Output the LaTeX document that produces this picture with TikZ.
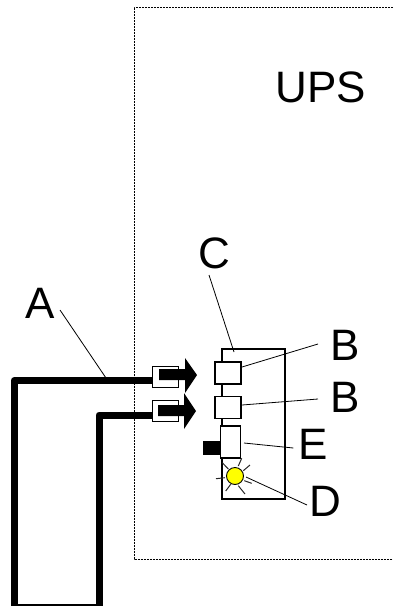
\documentclass[tikz,border=0pt]{standalone}
\usepackage{fontspec}
\setmainfont{Liberation Sans}
\definecolor{bulb}{rgb}{1,1,0}
\tikzset{
  x=1pt,y=-1pt,
  lab/.style={inner sep=0pt,font=\fontsize{44}{44}\selectfont},
  leader/.style={draw=black,line width=0.8pt},
  cable/.style={draw=black,line width=7pt,line join=round},
  plug/.style={draw=black,line width=1.3pt,fill=white,inner sep=0pt,minimum width=26pt,minimum height=21pt},
  part/.style={draw=black,line width=1.3pt,fill=white,inner sep=0pt},
  flow/.style={fill=black},
  ray/.style={draw=black!85,line width=1pt}
}
\begin{document}
\begin{tikzpicture}
\useasboundingbox (0,0) rectangle (393,606);
\clip (0,0) rectangle (393,606);
\draw[dash pattern=on 1pt off 0.5pt,line width=1pt] (393,7) -- (134,7) -- (134,559) -- (393,559);
\node[lab] (ups) at (321,87.5) {UPS};
\node[plug] (p1) at (165.5,377) {};
\node[plug] (p2) at (165.5,411) {};
\draw[cable] (p1.west|-0,380.5) -- (14,380.5) -- (14,607.5) -- (99,607.5) -- (99,415) -- (p2.west|-0,415);
\fill[flow] (159,369) -- (185,369) -- (185,358) -- (197,375) -- (185,393) -- (185,380) -- (159,380) -- cycle;
\fill[flow] (158,405) -- (184,405) -- (184,393) -- (196,411) -- (184,429) -- (184,416) -- (158,416) -- cycle;
\draw[part,fill=none,draw=black] (222,349) rectangle (285,499);
\node[part,minimum width=26pt,minimum height=22pt] (b1) at (228,373) {};
\node[part,minimum width=26pt,minimum height=22pt] (b2) at (228,407.5) {};
\node[part,minimum width=20pt,minimum height=32pt] (e) at (230.5,442) {};
\fill (203,441) rectangle (221,455);
\node[draw=black,line width=0.9pt,fill=bulb,circle,minimum size=17pt,inner sep=0pt] (d) at (235,476) {};
\draw[ray] (243.3,470.7) -- (250,465);
\draw[ray] (238.3,466) -- (241.7,458.3);
\draw[ray] (222.3,462.7) -- (228.3,469);
\draw[ray] (216,478.7) -- (225,477.7);
\draw[ray] (225.7,491) -- (230.7,484.3);
\draw[ray] (238.3,485.7) -- (245,494);
\draw[ray] (244.3,480.7) -- (251.7,483.3);
\node[lab] (A) at (40,303) {A};
\node[lab] (C) at (214.5,253) {C};
\node[lab] (B1) at (345.5,345) {B};
\node[lab] (B2) at (345.5,397) {B};
\node[lab] (E) at (313,444) {E};
\node[lab] (D) at (325.5,501.5) {D};
\draw[leader] (60,310) -- (106,378);
\draw[leader] (209,275) -- (234,352);
\draw[leader] (242,367) -- (318,344);
\draw[leader] (242,405) -- (318,399);
\draw[leader] (244,443) -- (293.3,448);
\draw[leader] (246,477) -- (307,505);
\end{tikzpicture}
\end{document}
